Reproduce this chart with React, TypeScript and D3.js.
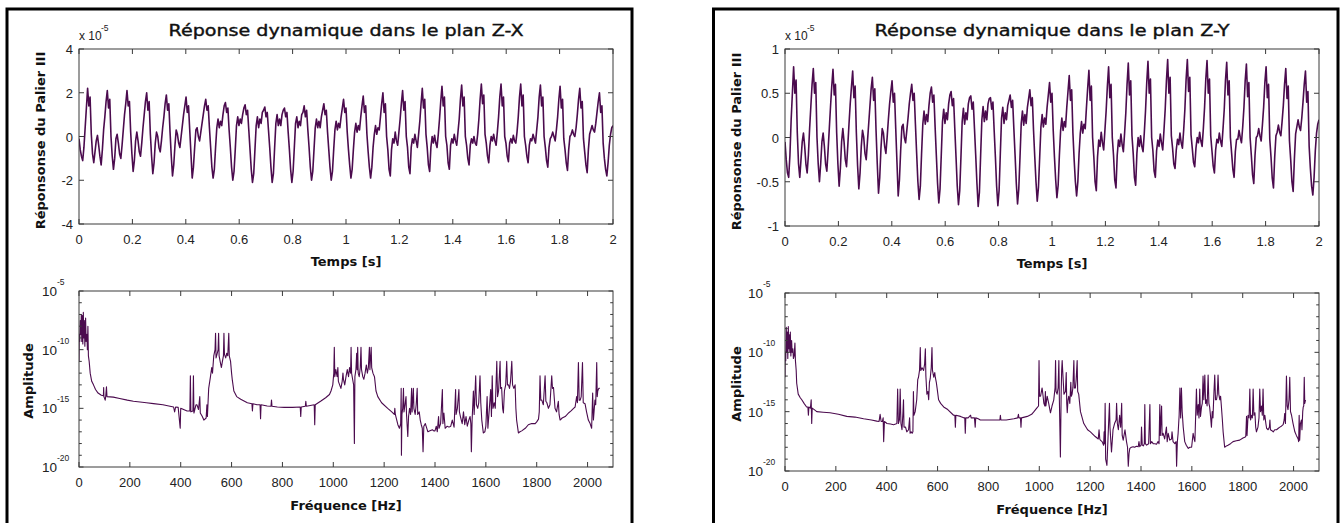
import React from 'react';
import * as d3 from 'd3';

// tick values
const timeTicks = [0, 0.2, 0.4, 0.6, 0.8, 1, 1.2, 1.4, 1.6, 1.8, 2];
const freqTicks = [0, 200, 400, 600, 800, 1000, 1200, 1400, 1600, 1800, 2000];
const zxTicks = [-4, -2, 0, 2, 4];
const zyTicks = [-1, -0.5, 0, 0.5, 1];
const decades = [1e-20, 1e-19, 1e-18, 1e-17, 1e-16, 1e-15, 1e-14, 1e-13, 1e-12, 1e-11, 1e-10, 1e-9, 1e-8, 1e-7, 1e-6, 1e-5];
const labelledDecades = [1e-20, 1e-15, 1e-10, 1e-5];
const decadeLabels = ['-20', '-15', '-10', '-5'];

// time response, units of 1e-5, 435 samples over 0..2 s (one row ~ one revolution)
const zxSignal = [
  -0.1, -0.6, -0.9, -1.1, -0.5, 0.4, 1.3,
  2.2, 1.4, 1.8, 0.1, -0.8, -1.2, -0.7, -0.2, 0.05, -0.4, -0.9, -1.3, -0.6, 0.3, 0.9, 1.6,
  2.1, 1.3, 1.7, 0.0, -0.9, -1.5, -1.0, -0.1, 0.1, -0.3, -0.8, -1.0, -0.4, 0.3, 1.0, 1.5,
  2.1, 1.4, 1.6, 0.2, -0.8, -1.6, -1.1, -0.2, 0.2, -0.2, -0.7, -0.9, -0.3, 0.4, 1.0, 1.6,
  2.0, 1.2, 1.6, 0.1, -0.9, -1.7, -1.2, -0.3, 0.2, 0.0, -0.5, -0.7, -0.2, 0.4, 0.9, 1.5,
  1.9, 1.2, 1.5, 0.2, -0.9, -1.8, -1.3, -0.4, 0.3, 0.1, -0.3, -0.5, 0.0, 0.5, 1.0, 1.4,
  1.8, 1.1, 1.4, 0.3, -0.8, -1.9, -1.4, -0.5, 0.3, 0.4, 0.0, -0.2, 0.2, 0.6, 1.0, 1.4,
  1.7, 1.2, 1.4, 0.4, -0.5, -1.4, -1.9, -1.5, -0.5, 0.4, 0.8, 0.4, 0.7, 0.5, 1.0, 1.4,
  1.55, 1.1, 1.3, 0.3, -0.5, -1.4, -2.0, -1.6, -0.6, 0.5, 0.9, 0.5, 0.8, 0.6, 1.0, 1.3,
  1.45, 1.0, 1.2, 0.3, -0.6, -1.5, -2.1, -1.7, -0.6, 0.5, 0.9, 0.4, 0.8, 0.6, 1.1, 1.2,
  1.35, 0.9, 1.1, 0.3, -0.5, -1.4, -2.1, -1.7, -0.5, 0.6, 1.0, 0.5, 0.8, 0.5, 1.0, 1.2,
  1.3, 0.9, 1.1, 0.2, -0.6, -1.5, -2.1, -1.6, -0.5, 0.6, 0.9, 0.4, 0.7, 0.5, 1.0, 1.1,
  1.4, 0.9, 1.2, 0.3, -0.5, -1.4, -2.0, -1.6, -0.6, 0.4, 0.8, 0.4, 0.7, 0.4, 0.9, 1.2,
  1.5, 1.0, 1.2, 0.2, -0.6, -1.4, -2.0, -1.6, -0.6, 0.3, 0.7, 0.3, 0.6, 0.4, 0.9, 1.3,
  1.7, 1.1, 1.3, 0.2, -0.6, -1.3, -1.9, -1.5, -0.6, 0.2, 0.6, 0.2, 0.5, 0.3, 0.9, 1.4,
  1.85, 1.1, 1.4, 0.1, -0.7, -1.4, -1.9, -1.4, -0.5, 0.1, 0.5, 0.1, 0.4, 0.3, 0.9, 1.5,
  2.0, 1.1, 1.5, 0.0, -0.6, -1.5, -1.8, -0.6, -0.1, -0.3, 0.2, -0.2, -0.4, 0.2, 0.8, 1.5,
  2.1, 1.2, 1.6, 0.0, -0.5, -1.4, -1.7, -0.5, -0.1, -0.3, 0.1, -0.2, -0.5, 0.1, 0.7, 1.5,
  2.2, 1.3, 1.7, 0.1, -0.5, -1.3, -1.6, -0.5, 0.0, -0.3, 0.05, -0.3, -0.5, 0.1, 0.8, 1.6,
  2.3, 1.4, 1.8, 0.0, -0.4, -1.2, -1.5, -0.4, -0.1, -0.3, 0.1, -0.2, -0.4, 0.2, 0.8, 1.7,
  2.35, 1.4, 1.8, 0.0, -0.4, -1.0, -1.3, -0.4, -0.1, -0.3, 0.0, -0.3, -0.4, 0.1, 0.8, 1.7,
  2.4, 1.5, 1.9, 0.1, -0.3, -0.9, -1.2, -0.4, 0.0, -0.2, 0.1, -0.2, -0.4, 0.2, 0.9, 1.8,
  2.4, 1.4, 1.8, 0.0, -0.3, -0.9, -1.15, -0.3, -0.1, -0.3, 0.05, -0.2, -0.3, 0.2, 0.9, 1.8,
  2.4, 1.4, 1.9, 0.0, -0.4, -0.9, -1.2, -0.4, -0.1, -0.2, 0.1, -0.1, -0.3, 0.3, 0.9, 1.8,
  2.35, 1.4, 1.8, 0.0, -0.5, -1.1, -1.4, -0.5, -0.1, 0.0, 0.2, 0.0, -0.2, 0.3, 0.9, 1.7,
  2.3, 1.3, 1.7, -0.1, -0.6, -1.2, -1.55, -0.6, 0.0, 0.1, 0.3, 0.1, 0.0, 0.4, 1.0, 1.7,
  2.2, 1.3, 1.6, -0.1, -0.7, -1.3, -1.65, -0.6, 0.1, 0.3, 0.5, 0.3, 0.2, 0.6, 1.1, 1.6,
  2.0, 1.1, 1.4, -0.3, -1.0, -1.5, -1.8, -1.2, -0.4, 0.1, 0.4, 0.5,
];

const zySignal = [
  -0.05, -0.25, -0.4, -0.45, -0.2, 0.2, 0.5,
  0.8, 0.5, 0.65, 0.05, -0.3, -0.45, -0.25, -0.05, 0.05, -0.1, -0.3, -0.4, -0.2, 0.1, 0.35, 0.6,
  0.78, 0.5, 0.62, 0.0, -0.3, -0.5, -0.3, -0.05, 0.05, -0.1, -0.3, -0.38, -0.15, 0.1, 0.35, 0.58,
  0.77, 0.48, 0.6, 0.05, -0.3, -0.55, -0.35, -0.05, 0.1, -0.05, -0.25, -0.33, -0.1, 0.15, 0.38, 0.57,
  0.75, 0.45, 0.58, 0.05, -0.32, -0.58, -0.4, -0.1, 0.08, 0.0, -0.18, -0.25, -0.05, 0.15, 0.35, 0.55,
  0.68, 0.42, 0.55, 0.08, -0.3, -0.63, -0.45, -0.12, 0.1, 0.05, -0.1, -0.18, 0.0, 0.2, 0.38, 0.52,
  0.64, 0.4, 0.5, 0.1, -0.28, -0.66, -0.48, -0.15, 0.12, 0.15, 0.0, -0.06, 0.08, 0.22, 0.38, 0.5,
  0.6, 0.42, 0.5, 0.15, -0.18, -0.5, -0.7, -0.55, -0.18, 0.15, 0.3, 0.15, 0.26, 0.18, 0.36, 0.5,
  0.57, 0.4, 0.48, 0.12, -0.2, -0.52, -0.74, -0.58, -0.2, 0.18, 0.32, 0.16, 0.28, 0.2, 0.38, 0.48,
  0.52, 0.36, 0.44, 0.1, -0.22, -0.55, -0.76, -0.6, -0.22, 0.18, 0.33, 0.15, 0.28, 0.2, 0.38, 0.45,
  0.47, 0.32, 0.4, 0.1, -0.2, -0.52, -0.78, -0.62, -0.2, 0.2, 0.35, 0.18, 0.3, 0.2, 0.38, 0.44,
  0.45, 0.32, 0.4, 0.08, -0.22, -0.55, -0.77, -0.6, -0.18, 0.22, 0.34, 0.16, 0.28, 0.2, 0.36, 0.42,
  0.48, 0.34, 0.42, 0.1, -0.2, -0.52, -0.75, -0.58, -0.22, 0.16, 0.3, 0.14, 0.26, 0.16, 0.34, 0.44,
  0.54, 0.36, 0.45, 0.08, -0.22, -0.5, -0.72, -0.56, -0.22, 0.12, 0.26, 0.12, 0.22, 0.15, 0.34, 0.48,
  0.62, 0.4, 0.5, 0.08, -0.22, -0.48, -0.68, -0.54, -0.2, 0.08, 0.22, 0.08, 0.18, 0.12, 0.34, 0.52,
  0.7, 0.42, 0.54, 0.05, -0.25, -0.5, -0.66, -0.5, -0.18, 0.05, 0.18, 0.05, 0.15, 0.1, 0.34, 0.56,
  0.76, 0.42, 0.58, 0.0, -0.22, -0.5, -0.6, -0.22, -0.03, -0.1, 0.06, -0.06, -0.14, 0.08, 0.3, 0.58,
  0.8, 0.45, 0.6, 0.0, -0.2, -0.48, -0.57, -0.2, -0.03, -0.1, 0.04, -0.08, -0.16, 0.05, 0.28, 0.6,
  0.84, 0.48, 0.64, 0.02, -0.18, -0.45, -0.54, -0.18, 0.0, -0.1, 0.02, -0.1, -0.16, 0.05, 0.3, 0.62,
  0.86, 0.5, 0.66, 0.0, -0.15, -0.38, -0.45, -0.15, -0.03, -0.1, 0.04, -0.06, -0.14, 0.08, 0.32, 0.64,
  0.88, 0.5, 0.68, 0.02, -0.12, -0.3, -0.35, -0.14, -0.02, -0.08, 0.05, -0.06, -0.12, 0.08, 0.32, 0.66,
  0.88, 0.52, 0.68, 0.03, -0.12, -0.28, -0.33, -0.12, 0.0, -0.06, 0.06, -0.04, -0.1, 0.1, 0.34, 0.66,
  0.87, 0.5, 0.66, 0.02, -0.15, -0.32, -0.4, -0.14, -0.02, -0.06, 0.05, -0.04, -0.1, 0.1, 0.32, 0.65,
  0.85, 0.48, 0.64, 0.0, -0.18, -0.36, -0.45, -0.16, -0.02, -0.02, 0.08, 0.0, -0.06, 0.12, 0.34, 0.64,
  0.83, 0.46, 0.62, 0.0, -0.2, -0.42, -0.52, -0.2, 0.0, 0.02, 0.1, 0.02, -0.04, 0.14, 0.34, 0.62,
  0.8, 0.45, 0.6, -0.02, -0.22, -0.46, -0.57, -0.22, 0.02, 0.06, 0.14, 0.06, 0.02, 0.18, 0.36, 0.6,
  0.78, 0.44, 0.58, -0.04, -0.25, -0.5, -0.61, -0.24, 0.04, 0.12, 0.2, 0.12, 0.08, 0.22, 0.4, 0.6,
  0.75, 0.4, 0.52, -0.1, -0.35, -0.55, -0.65, -0.45, -0.15, 0.05, 0.15, 0.2,
];

// spectra: [frequency Hz, amplitude]
const zxSpectrum: [number, number][] = [
  [0, 1e-11], [1, 2e-9], [3, 5e-10], [5, 3e-8], [7, 2e-9], [9, 1e-7], [11, 5e-10], [13, 8e-8], [15, 3e-10],
  [17, 1.5e-7], [19, 1e-9], [21, 3e-8], [23, 2e-10], [26, 5e-8], [28, 5e-10], [31, 2e-9], [33, 1e-10],
  [35, 1e-8], [37, 3e-11], [40, 1e-11], [44, 1e-12], [50, 2e-13], [57, 1e-13], [65, 4e-14], [75, 2e-14],
  [88, 1.3e-14], [96, 1.2e-14], [97, 6e-14], [98, 1e-14], [103, 5e-15], [105, 1e-14], [108, 7e-14],
  [110, 1e-14], [135, 9e-15], [160, 7e-15], [190, 5e-15], [214, 4e-15], [240, 3.5e-15], [265, 3e-15],
  [293, 2.5e-15], [330, 2e-15], [372, 1.3e-15], [376, 5e-16], [380, 1.3e-15], [390, 1.2e-15],
  [398, 2e-17], [400, 1e-15], [425, 6e-16], [436, 6e-16], [438, 6e-13], [440, 5e-16], [448, 6e-16],
  [450, 6e-13], [452, 4e-16], [460, 2e-15], [464, 2e-15], [470, 8e-16], [475, 1e-14], [477, 4e-16],
  [485, 2e-16], [491, 1e-16], [500, 1.5e-16], [503, 2e-15], [505, 2e-16], [510, 5e-14], [517, 5e-13],
  [522, 3e-12], [525, 1e-12], [530, 3e-11], [535, 1e-10], [537, 2.5e-9], [539, 2e-11], [544, 5e-11],
  [547, 1e-10], [549, 2.5e-9], [551, 3e-11], [556, 8e-12], [560, 3e-12], [564, 1e-11], [568, 3e-11],
  [570, 2.5e-9], [572, 4e-11], [577, 2e-11], [581, 5e-11], [585, 3e-11], [589, 2.5e-9], [591, 3e-11],
  [596, 1e-11], [600, 1e-12], [603, 2.5e-13], [609, 3e-14], [620, 1e-14], [636, 6e-15], [662, 3e-15],
  [680, 2.5e-15], [682, 6e-16], [684, 2.5e-15], [700, 2e-15], [712, 2e-15], [714, 1.3e-16], [716, 2e-15],
  [740, 1.6e-15], [755, 1.5e-15], [757, 5e-15], [759, 1.5e-15], [780, 1.3e-15], [807, 1.2e-15],
  [840, 1.2e-15], [870, 1.3e-15], [872, 2e-16], [874, 1.3e-15], [890, 1.5e-15], [892, 4e-15],
  [894, 1.5e-15], [925, 2e-15], [927, 4e-17], [929, 2e-15], [950, 4e-15], [970, 8e-15], [985, 1.5e-14],
  [991, 3e-14], [998, 1e-13], [1002, 1e-12], [1004, 1.6e-10], [1006, 5e-13], [1010, 2e-12], [1015, 5e-13],
  [1018, 3e-12], [1020, 2e-13], [1025, 1e-13], [1030, 5e-14], [1035, 2e-13], [1038, 1e-12], [1040, 3e-13],
  [1045, 1e-13], [1050, 5e-13], [1055, 2e-12], [1060, 5e-13], [1064, 3e-12], [1068, 1e-12], [1070, 1.6e-10],
  [1072, 1e-12], [1076, 3e-13], [1080, 1e-13], [1083, 1e-18], [1085, 5e-13], [1089, 2e-12], [1092, 5e-11],
  [1094, 2e-12], [1096, 1.6e-10], [1098, 1e-12], [1102, 5e-13], [1106, 3e-12], [1109, 1.6e-10],
  [1111, 2e-12], [1116, 5e-13], [1120, 3e-13], [1125, 1e-12], [1130, 5e-12], [1134, 1e-12], [1138, 3e-12],
  [1142, 1.6e-10], [1144, 2e-12], [1149, 1.6e-10], [1151, 3e-12], [1156, 1e-12], [1162, 5e-13],
  [1168, 3e-14], [1175, 1e-14], [1190, 3e-15], [1214, 1e-15], [1230, 5e-16], [1240, 3e-16], [1242, 1e-15],
  [1244, 3e-16], [1254, 4e-17], [1260, 2e-17], [1265, 5e-17], [1267, 5e-14], [1268, 1e-19], [1270, 3e-16],
  [1273, 1e-15], [1276, 5e-14], [1278, 5e-16], [1282, 2e-15], [1286, 1e-14], [1288, 3e-16], [1293, 4e-18],
  [1296, 2e-16], [1300, 1e-15], [1304, 3e-16], [1308, 5e-14], [1310, 5e-16], [1315, 5e-14], [1317, 1e-15],
  [1322, 3e-16], [1326, 2e-15], [1330, 5e-14], [1332, 3e-16], [1338, 5e-16], [1342, 1e-16], [1346, 4e-17],
  [1350, 2e-17], [1353, 2e-19], [1356, 3e-17], [1362, 5e-17], [1372, 1e-17], [1380, 1.2e-17],
  [1390, 1.5e-17], [1395, 1.2e-17], [1400, 1.2e-17], [1405, 3e-17], [1409, 1e-17], [1414, 2e-16],
  [1416, 2e-17], [1422, 5e-17], [1429, 4e-14], [1431, 5e-17], [1435, 4e-16], [1440, 2e-17], [1448, 3e-17],
  [1455, 2.5e-17], [1462, 3e-17], [1468, 1e-16], [1475, 2.5e-17], [1481, 4e-14], [1483, 3e-16],
  [1488, 1e-15], [1494, 4e-14], [1496, 5e-16], [1500, 2e-16], [1507, 5e-17], [1512, 5e-16], [1517, 4e-17],
  [1522, 2e-16], [1527, 3e-17], [1533, 1e-16], [1538, 2e-16], [1541, 5e-17], [1543, 2e-19], [1546, 1e-16],
  [1551, 3e-14], [1554, 3e-16], [1560, 6e-13], [1563, 2e-15], [1568, 1e-15], [1572, 3e-15], [1577, 6e-13],
  [1580, 3e-15], [1584, 1e-16], [1590, 8e-18], [1596, 1e-17], [1600, 3e-17], [1605, 1e-14], [1608, 2e-17],
  [1612, 3e-16], [1619, 4e-14], [1622, 2e-16], [1625, 6e-13], [1628, 1e-15], [1633, 3e-15], [1637, 1e-15],
  [1643, 1e-11], [1646, 1e-14], [1650, 3e-14], [1656, 1e-11], [1658, 5e-14], [1662, 6e-14], [1666, 1e-15],
  [1669, 4e-16], [1673, 3e-14], [1678, 1e-13], [1682, 1e-11], [1685, 1e-13], [1689, 1e-13], [1693, 5e-14],
  [1697, 2e-13], [1702, 1e-11], [1705, 1e-13], [1710, 5e-14], [1715, 1e-13], [1718, 1e-15], [1721, 1e-16],
  [1728, 8e-18], [1734, 1e-17], [1741, 1.2e-17], [1755, 2e-17], [1767, 4e-17], [1780, 5e-17], [1794, 5e-17],
  [1800, 7e-17], [1807, 1.2e-16], [1810, 5e-16], [1813, 6e-13], [1816, 5e-15], [1820, 5e-15], [1826, 2e-15],
  [1833, 6e-13], [1836, 4e-15], [1840, 3e-15], [1846, 1e-15], [1852, 2e-15], [1859, 6e-13], [1862, 5e-14],
  [1866, 6e-14], [1872, 1e-15], [1878, 5e-16], [1885, 4e-15], [1888, 3e-16], [1892, 1e-16], [1900, 1.5e-16],
  [1912, 2e-16], [1920, 3e-16], [1925, 4e-16], [1935, 6e-16], [1945, 1e-15], [1951, 1.3e-15], [1957, 1e-14],
  [1960, 3e-15], [1964, 8e-12], [1967, 5e-15], [1971, 5e-15], [1975, 1e-14], [1980, 8e-12], [1983, 3e-15],
  [1990, 2.5e-15], [1996, 5e-16], [2003, 1e-16], [2010, 5e-17], [2016, 2e-17], [2020, 2e-14], [2023, 1e-16],
  [2029, 5e-15], [2032, 2e-15], [2036, 8e-12], [2038, 1e-14], [2040, 3e-14], [2044, 5e-14], [2048, 5e-14],
];

const zySpectrum: [number, number][] = [
  [0, 8e-13], [1, 1e-10], [3, 2e-11], [5, 1.3e-8], [7, 1e-10], [9, 5e-9], [11, 3e-11], [13, 1.5e-8],
  [15, 2e-10], [17, 3e-9], [19, 1e-10], [21, 5e-9], [23, 5e-11], [26, 1e-9], [28, 1e-10], [31, 2e-10],
  [33, 3e-11], [36, 5e-11], [39, 6e-10], [41, 2e-11], [44, 3e-12], [46, 2.5e-13], [52, 3e-14], [60, 1.5e-14],
  [66, 1e-14], [75, 5e-15], [85, 2.5e-15], [90, 2.5e-15], [92, 5e-16], [94, 2.5e-15], [100, 2e-15],
  [103, 1e-14], [105, 1e-16], [107, 2e-15], [115, 1.5e-15], [125, 1e-15], [150, 9e-16], [177, 8e-16],
  [210, 6e-16], [243, 4e-16], [275, 3.5e-16], [309, 2.5e-16], [340, 2e-16], [361, 1.6e-16], [370, 1.5e-16],
  [374, 6e-16], [378, 1.5e-16], [383, 1.5e-16], [386, 3e-16], [388, 3e-18], [391, 1.5e-16], [401, 1e-16],
  [415, 9e-17], [427, 8e-17], [435, 9e-17], [440, 1e-16], [443, 8e-14], [446, 1e-16], [450, 2e-16],
  [453, 8e-14], [456, 1e-16], [460, 3e-17], [464, 1e-15], [466, 1e-14], [468, 5e-17], [474, 5e-17],
  [479, 2e-17], [486, 3e-17], [490, 3e-16], [492, 1.5e-17], [496, 2e-17], [500, 1.5e-17], [503, 2e-17],
  [505, 5e-14], [507, 5e-16], [512, 1e-15], [518, 1e-14], [522, 5e-13], [525, 8e-13], [529, 3e-12],
  [532, 2.5e-10], [534, 3e-12], [539, 5e-12], [545, 3e-12], [549, 1e-11], [552, 2e-10], [554, 1e-12],
  [558, 3e-14], [562, 5e-14], [565, 1e-14], [568, 3e-13], [571, 6e-13], [575, 5e-12], [578, 2.5e-10],
  [580, 3e-12], [585, 8e-13], [589, 2e-12], [591, 8e-13], [595, 3e-13], [598, 1e-13], [604, 1e-14],
  [612, 5e-15], [624, 2.5e-15], [640, 1.5e-15], [663, 5e-16], [668, 5e-16], [670, 5e-17], [672, 5e-16],
  [690, 4e-16], [703, 3e-16], [707, 3e-16], [709, 1.5e-17], [711, 3e-16], [720, 3e-16], [730, 5e-16],
  [732, 3e-16], [745, 3e-16], [748, 5e-17], [750, 3e-16], [760, 2.5e-16], [768, 2e-16], [800, 2e-16],
  [834, 2e-16], [845, 2e-16], [847, 5e-16], [849, 2e-16], [870, 2e-16], [900, 2.5e-16], [915, 3e-16],
  [918, 6e-16], [920, 3e-16], [926, 3e-16], [928, 5e-17], [930, 3e-16], [953, 4e-16], [970, 6e-16],
  [979, 1e-15], [990, 2e-15], [997, 3e-15], [999, 2e-11], [1001, 2e-14], [1005, 2e-14], [1011, 1e-13],
  [1015, 2e-14], [1018, 5e-15], [1022, 3e-15], [1024, 5e-14], [1026, 3e-15], [1031, 2e-14], [1037, 5e-15],
  [1044, 8e-16], [1050, 3e-15], [1057, 1e-14], [1062, 1e-13], [1064, 2e-11], [1066, 5e-14], [1070, 3e-14],
  [1074, 1e-13], [1077, 2e-11], [1079, 1e-14], [1083, 1.5e-19], [1086, 3e-14], [1088, 3e-12], [1090, 2e-11],
  [1092, 3e-12], [1097, 3e-14], [1103, 5e-14], [1106, 2e-12], [1108, 5e-15], [1110, 8e-16], [1113, 1e-14],
  [1116, 2e-14], [1120, 5e-15], [1124, 3e-13], [1126, 2e-14], [1129, 3e-14], [1132, 1e-13], [1136, 2e-11],
  [1138, 1e-13], [1142, 1e-13], [1145, 5e-13], [1149, 2e-11], [1151, 5e-14], [1155, 3e-14], [1162, 1e-15],
  [1175, 1e-16], [1190, 3e-17], [1201, 2e-17], [1220, 8e-18], [1232, 5e-18], [1235, 3e-17], [1238, 5e-18],
  [1240, 4e-18], [1247, 3e-18], [1253, 1.5e-18], [1255, 2e-17], [1257, 2e-18], [1259, 5e-15], [1261, 1e-19],
  [1266, 3e-20], [1272, 5e-17], [1276, 5e-15], [1278, 5e-17], [1284, 4e-19], [1290, 3e-17], [1296, 1e-16],
  [1302, 2e-16], [1304, 5e-15], [1307, 1e-16], [1311, 3e-17], [1316, 5e-16], [1320, 5e-17], [1324, 5e-15],
  [1326, 1e-17], [1330, 4e-18], [1337, 3e-17], [1343, 3e-18], [1347, 1e-18], [1350, 2.5e-20], [1353, 3e-19],
  [1356, 8e-19], [1362, 1e-18], [1369, 1.1e-18], [1375, 1e-18], [1382, 1.2e-18], [1389, 1.1e-18],
  [1392, 3e-18], [1395, 1.1e-18], [1400, 1.5e-18], [1402, 5e-17], [1405, 1.5e-18], [1409, 1.3e-18],
  [1413, 2e-18], [1415, 4e-15], [1417, 2e-18], [1422, 1.5e-18], [1430, 2e-18], [1435, 4e-15], [1437, 2e-18],
  [1442, 3e-18], [1448, 2e-18], [1455, 2e-18], [1461, 1.8e-18], [1467, 3e-18], [1471, 2e-18], [1474, 4e-15],
  [1476, 1e-17], [1481, 3e-15], [1483, 1e-17], [1487, 1.5e-17], [1493, 5e-18], [1500, 5e-17], [1503, 3e-18],
  [1507, 1.5e-17], [1513, 4e-18], [1520, 5e-18], [1522, 2e-17], [1526, 3e-18], [1533, 2e-18], [1538, 3e-18],
  [1540, 2.5e-20], [1543, 3e-18], [1546, 1.5e-17], [1550, 5e-16], [1553, 1e-13], [1556, 3e-16], [1559, 1e-13],
  [1562, 1e-15], [1566, 5e-17], [1572, 3e-18], [1578, 1.5e-18], [1586, 8e-19], [1592, 1e-18], [1599, 1e-18],
  [1605, 1.5e-17], [1609, 5e-18], [1612, 3e-18], [1618, 8e-14], [1621, 5e-16], [1625, 4e-15], [1628, 3e-16],
  [1631, 8e-14], [1634, 4e-16], [1638, 2.5e-15], [1641, 5e-15], [1644, 1e-12], [1647, 1e-14], [1651, 1.2e-12],
  [1654, 5e-15], [1657, 1e-14], [1660, 3e-15], [1664, 1.2e-12], [1667, 5e-15], [1670, 2.5e-15], [1674, 3e-16],
  [1677, 5e-17], [1680, 1e-15], [1683, 3e-16], [1687, 5e-14], [1690, 1.2e-12], [1693, 1e-14], [1697, 1e-14],
  [1700, 3e-14], [1703, 1.2e-12], [1706, 3e-14], [1710, 1e-14], [1713, 2e-14], [1716, 3e-15], [1720, 2e-16],
  [1723, 2e-17], [1729, 1e-18], [1736, 1.3e-18], [1742, 1.5e-18], [1752, 2e-18], [1762, 3e-18], [1775, 3.5e-18],
  [1788, 4e-18], [1801, 6e-18], [1808, 7e-18], [1812, 8e-18], [1815, 4e-16], [1817, 1e-17], [1821, 5e-16],
  [1825, 3e-16], [1828, 8e-14], [1831, 2e-16], [1835, 5e-16], [1838, 3e-16], [1841, 8e-14], [1844, 5e-16],
  [1848, 8e-16], [1851, 5e-17], [1854, 2e-17], [1860, 5e-17], [1864, 3e-16], [1867, 8e-14], [1870, 1e-15],
  [1874, 3e-15], [1877, 5e-16], [1880, 8e-14], [1883, 2e-16], [1887, 5e-16], [1891, 1e-16], [1894, 4e-17],
  [1900, 3e-17], [1905, 5e-17], [1907, 2e-16], [1909, 3e-17], [1915, 2.5e-17], [1920, 2e-17], [1926, 3e-17],
  [1933, 3e-17], [1940, 4e-17], [1946, 5e-17], [1952, 6e-17], [1959, 8e-17], [1963, 2e-16], [1965, 7e-16],
  [1968, 1e-16], [1972, 1e-12], [1975, 3e-15], [1978, 1.5e-15], [1982, 1e-14], [1985, 8e-13], [1988, 1e-15],
  [1992, 5e-16], [1998, 1e-16], [2005, 2e-17], [2011, 1e-17], [2018, 5e-18], [2020, 3e-18], [2022, 5e-16],
  [2024, 4e-18], [2027, 1e-16], [2031, 2e-16], [2033, 3e-17], [2036, 1e-15], [2038, 2.5e-15], [2040, 3e-15],
  [2042, 8e-13], [2044, 5e-15], [2047, 1e-14],
];

const PURPLE = '#4b0b4e';
const AXIS = '#3a3a3a';
const TICKFONT = '"Liberation Sans", Arial, sans-serif';
const LABELFONT = '"DejaVu Sans", Verdana, sans-serif';

type Box = { left: number; right: number; top: number; bottom: number };

function TimePlot({ box, signal, yMax, yTicks, title, id, ylabelX }: {
  box: Box; signal: number[]; yMax: number; yTicks: number[]; title: string; id: string; ylabelX: number;
}) {
  const x = d3.scaleLinear().domain([0, 2]).range([box.left, box.right]);
  const y = d3.scaleLinear().domain([-yMax, yMax]).range([box.bottom, box.top]);
  const dt = 2 / (signal.length - 1);
  const path = d3.line<number>().x((d, i) => x(i * dt)).y(d => y(d))(signal);
  const tl = 5;
  const cx = (box.left + box.right) / 2;
  const cy = (box.top + box.bottom) / 2 + 4;
  return (
    <g>
      <clipPath id={id}>
        <rect x={box.left} y={box.top} width={box.right - box.left} height={box.bottom - box.top} />
      </clipPath>
      <path d={path || ''} fill="none" stroke={PURPLE} strokeWidth={1.6} strokeLinejoin="round" clipPath={`url(#${id})`} />
      <rect x={box.left} y={box.top} width={box.right - box.left} height={box.bottom - box.top}
        fill="none" stroke={AXIS} strokeWidth={1} />
      {timeTicks.map(t => (
        <g key={t} stroke={AXIS}>
          <line x1={x(t)} x2={x(t)} y1={box.bottom} y2={box.bottom - tl} />
          <line x1={x(t)} x2={x(t)} y1={box.top} y2={box.top + tl} />
        </g>
      ))}
      {timeTicks.map(t => (
        <text key={t} x={x(t)} y={box.bottom + 20} textAnchor="middle" fontSize={13}
          fontFamily={TICKFONT} fill="#222">{t}</text>
      ))}
      {yTicks.map(v => (
        <g key={v} stroke={AXIS}>
          <line x1={box.left} x2={box.left + tl} y1={y(v)} y2={y(v)} />
          <line x1={box.right} x2={box.right - tl} y1={y(v)} y2={y(v)} />
        </g>
      ))}
      {yTicks.map(v => (
        <text key={v} x={box.left - 6} y={y(v) + 5} textAnchor="end" fontSize={13}
          fontFamily={TICKFONT} fill="#222">{v}</text>
      ))}
      <text x={box.left} y={box.top - 9} fontSize={12} fontFamily={TICKFONT} fill="#222">x 10</text>
      <text x={box.left + 22} y={box.top - 18} fontSize={8.5} fontFamily={TICKFONT} fill="#222">-5</text>
      <text x={cx} y={36} textAnchor="middle" fontSize={16} fontFamily={LABELFONT} fill="#111"
        stroke="#111" strokeWidth={0.4} textLength={355} lengthAdjust="spacingAndGlyphs">{title}</text>
      <text x={cx} y={box.bottom + 42} textAnchor="middle" fontSize={13} fontWeight="bold"
        fontFamily={LABELFONT} fill="#111">Temps [s]</text>
      <text transform={`translate(${ylabelX},${cy}) rotate(-90)`} textAnchor="middle" dy="0.36em"
        fontSize={13} fontWeight="bold" fontFamily={LABELFONT} fill="#111">Réponsonse du Palier III</text>
    </g>
  );
}

function SpecPlot({ box, spectrum, id, ylabelX }: {
  box: Box; spectrum: [number, number][]; id: string; ylabelX: number;
}) {
  const x = d3.scaleLinear().domain([0, 2100]).range([box.left, box.right]);
  const y = d3.scaleLog().domain([1e-20, 1e-5]).range([box.bottom, box.top]).clamp(true);
  const path = d3.line<[number, number]>().x(d => x(d[0])).y(d => y(d[1]))(spectrum);
  const tl = 5;
  const cx = (box.left + box.right) / 2;
  const cy = (box.top + box.bottom) / 2 + 2;
  return (
    <g>
      <clipPath id={id}>
        <rect x={box.left} y={box.top} width={box.right - box.left} height={box.bottom - box.top} />
      </clipPath>
      <path d={path || ''} fill="none" stroke={PURPLE} strokeWidth={1.1} strokeLinejoin="round" clipPath={`url(#${id})`} />
      <rect x={box.left} y={box.top} width={box.right - box.left} height={box.bottom - box.top}
        fill="none" stroke={AXIS} strokeWidth={1} />
      {freqTicks.map(f => (
        <g key={f} stroke={AXIS}>
          <line x1={x(f)} x2={x(f)} y1={box.bottom} y2={box.bottom - tl} />
          <line x1={x(f)} x2={x(f)} y1={box.top} y2={box.top + tl} />
        </g>
      ))}
      {freqTicks.map(f => (
        <text key={f} x={x(f)} y={box.bottom + 20} textAnchor="middle" fontSize={13}
          fontFamily={TICKFONT} fill="#222">{f}</text>
      ))}
      {decades.map(d => {
        const len = labelledDecades.includes(d) ? 4.5 : 2.8;
        return (
          <g key={d} stroke={AXIS}>
            <line x1={box.left} x2={box.left + len} y1={y(d)} y2={y(d)} />
            <line x1={box.right} x2={box.right - len} y1={y(d)} y2={y(d)} />
          </g>
        );
      })}
      {labelledDecades.map((d, i) => (
        <g key={d} fontFamily={TICKFONT} fill="#222">
          <text x={box.left - 22} y={y(d) + 5} textAnchor="end" fontSize={13.5}>10</text>
          <text x={box.left - 22} y={y(d) - 6} fontSize={8.5}>{decadeLabels[i]}</text>
        </g>
      ))}
      <text x={cx} y={box.bottom + 43} textAnchor="middle" fontSize={13} fontWeight="bold"
        fontFamily={LABELFONT} fill="#111">Fréquence [Hz]</text>
      <text transform={`translate(${ylabelX},${cy}) rotate(-90)`} textAnchor="middle" dy="0.36em"
        fontSize={13} fontWeight="bold" fontFamily={LABELFONT} fill="#111">Amplitude</text>
    </g>
  );
}

export default function App() {
  return (
    <svg width={1344} height={523} style={{ position: 'absolute', left: 0, top: 0, background: '#fff' }}>
      <rect x={0} y={0} width={1344} height={523} fill="#fff" />
      <rect x={7} y={9} width={625} height={600} fill="none" stroke="#000" strokeWidth={3} />
      <rect x={713.5} y={9} width={624.5} height={600} fill="none" stroke="#000" strokeWidth={3} />
      <TimePlot box={{ left: 79, right: 613, top: 49, bottom: 224 }} signal={zxSignal} yMax={4}
        yTicks={zxTicks} title="Réponse dynamique dans le plan Z-X" id="c1" ylabelX={40} />
      <SpecPlot box={{ left: 79, right: 613, top: 291, bottom: 467 }} spectrum={zxSpectrum} id="c2" ylabelX={28} />
      <TimePlot box={{ left: 785, right: 1319, top: 49, bottom: 226 }} signal={zySignal} yMax={1}
        yTicks={zyTicks} title="Réponse dynamique dans le plan Z-Y" id="c3" ylabelX={736} />
      <SpecPlot box={{ left: 785, right: 1319, top: 293, bottom: 471 }} spectrum={zySpectrum} id="c4" ylabelX={736} />
    </svg>
  );
}
